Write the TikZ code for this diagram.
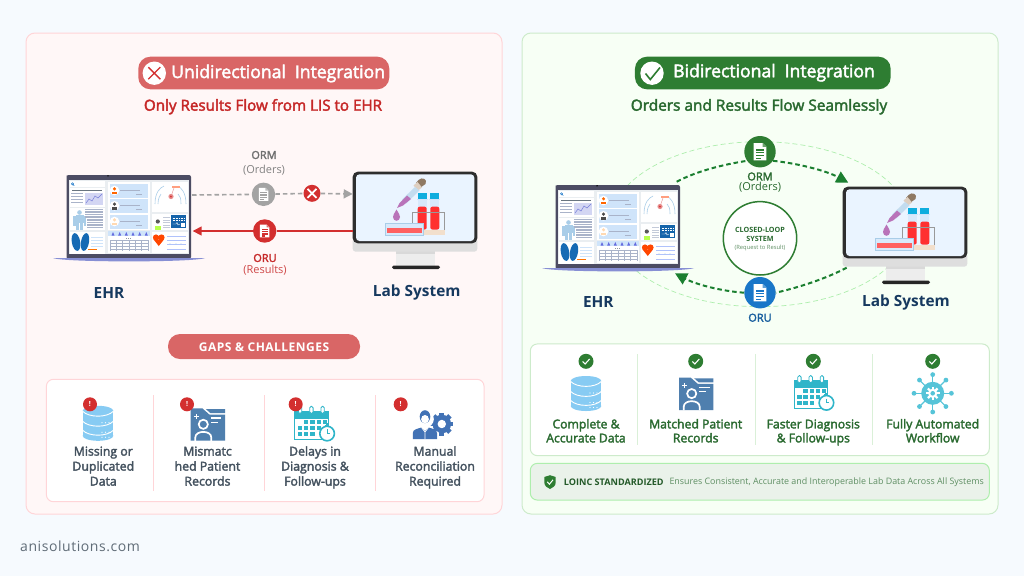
\documentclass[tikz,border=0pt]{standalone}
\usepackage{fontspec}
\setmainfont{Open Sans}
\newfontfamily\medf[FakeBold=2.5]{Open Sans}
\newfontfamily\spacedf[LetterSpace=4]{Open Sans}
\usetikzlibrary{arrows.meta,calc}
\definecolor{pagebg}{HTML}{F6FAFE}
\definecolor{redbg}{HTML}{FFF7F7}
\definecolor{redbd}{HTML}{FFD5D8}
\definecolor{redpill}{HTML}{D96666}
\definecolor{redd}{HTML}{D32F2F}
\definecolor{redt}{HTML}{C62828}
\definecolor{greenbg}{HTML}{F7FFF5}
\definecolor{greenbd}{HTML}{CDEBCB}
\definecolor{greenp}{HTML}{2E7D32}
\definecolor{greena}{HTML}{1B7F30}
\definecolor{greent}{HTML}{2A6A30}
\definecolor{navy}{HTML}{16395F}
\definecolor{slate}{HTML}{44525F}
\definecolor{grayc}{HTML}{A3A3A3}
\definecolor{grayt}{HTML}{6F6F6F}
\definecolor{bluec}{HTML}{1976C8}
\definecolor{dbblue}{HTML}{87CBF3}
\definecolor{fold}{HTML}{4F7FAE}
\definecolor{teal}{HTML}{2FB5C9}
\definecolor{manb}{HTML}{4272B5}
\definecolor{wflow}{HTML}{56C4D8}
\definecolor{scr}{HTML}{EAEEF1}
\definecolor{lrow}{HTML}{CFE4FA}
\definecolor{lline}{HTML}{A9B3C9}
\definecolor{lblue}{HTML}{A9CDE8}
\definecolor{mons}{HTML}{EAF4FF}
\newcommand{\fsz}[2]{\fontsize{#1}{#2}\selectfont}
\tikzset{
 x=1pt,y=-1pt,
 txt/.style={inner sep=0pt,align=center},
 panel/.style={draw,line width=1pt,rounded corners=9pt},
 pill/.style={rounded corners=12pt},
 card/.style={fill=white,draw,line width=1pt,rounded corners=7pt},
 disc/.style={circle,inner sep=0pt,minimum size=#1},
 lgrey/.style={lline,line width=.7pt},
 ddash/.style={dash pattern=on 4.5pt off 3pt,line width=2pt},
 tipA/.style={-{Triangle[length=9pt,width=9pt]}},
 gaptext/.style={txt,text=slate,font=\medf\fsz{12.3}{15}},
 bentext/.style={txt,text=greent,font=\medf\fsz{12.2}{14}},
 sysname/.style={txt,text=navy,font=\bfseries\fsz{15.4}{18}},
}
% laptop drawn in the coordinates of the left panel
\newcommand{\laptopicon}[2]{\begin{scope}[shift={(#1,#2)}]
 \fill[fill=black!78!blue!40!gray] (66.5,177) [rounded corners=2pt] -- (66.5,175) -- (191,175) -- (191,259) -- (66.5,259) -- cycle;
 \fill[scr] (68.5,180) rectangle (189,254);
 \fill[black] (108,175.8) circle[radius=.8];
 \fill[fill=lline!80!blue] (53,258) -- (205,258) .. controls (195,262.5) and (63,262.5) .. (53,258) -- cycle;
 \foreach \a/\b/\c/\d in {69.5/181/105/187,69.5/187.7/105/206.7,69.5/207.7/105/230,69.5/232/105/253.5,108/181.7/150/230,108/230.7/150/252.5,152.3/181.7/188.3/212.3,152.3/214.3/188.3/230,152.3/231.7/188.3/253.3}
   \fill[white] (\a,\b) rectangle (\c,\d);
 % search card
 \draw[bluec,line width=.5pt] (72.5,183.8) circle[radius=1.1] (73.3,184.7) -- (74.3,185.7);
 % chart card
 \draw[slate!80,line width=.8pt] (72,190.5) -- (102,190.5);
 \foreach \y in {193,196,199,202} \draw[lgrey,line width=.5pt] (71,\y) -- (83,\y);
 \fill[scr!90!blue] (85,193) rectangle (103,205);
 \draw[lline!70!blue,line width=.5pt] (86,203) -- (89,199) -- (92,201) -- (95,196) -- (98,198) -- (102,194);
 % body card
 \fill[lblue] (79.5,212.5) circle[radius=2.3];
 \fill[lblue] (75.5,215) rectangle (83.5,223);
 \fill[lblue] (73,215.5) -- (75.5,215.5) -- (75.5,226) -- (73,226) -- cycle;
 \fill[lblue] (83.5,215.5) -- (86,215.5) -- (86,226) -- (83.5,226) -- cycle;
 \fill[lblue] (76,223) rectangle (79,229.5);
 \fill[lblue] (80,223) rectangle (83,229.5);
 \foreach \y in {209.5,212,214.5,217} \draw[lline,line width=1.2pt] (85,\y) -- (103,\y);
 \foreach \y in {220,222.5,225,227.5} \draw[lline,line width=1.2pt] (87,\y) -- (103,\y);
 % lungs
 \fill[bluec!90!black,rotate around={10:(76,242)}] (76,242) ellipse[x radius=4.2,y radius=9];
 \fill[bluec!90!black,rotate around={-10:(85,242)}] (85,242) ellipse[x radius=4,y radius=9];
 \foreach \y in {237,240,243,246} \draw[lrow,line width=.6pt] (91,\y) -- (103,\y);
 \draw[orange!90!red,line width=1.1pt] (88,249.5) -- (97,249.5);
 % profile rows
 \foreach \y/\c in {184/orange!80!red,199.3/black!70,215/orange!30!white}{
   \fill[lrow] (110,\y) rectangle (148,\y+13.5);
   \fill[white] (114.5,\y+6.5) circle[radius=4.8];
   \fill[\c] (114.5,\y+4.8) circle[radius=1.7];
   \fill[\c] (111.7,\y+10.2) rectangle (117.3,\y+7.5);
   \draw[lgrey,line width=.5pt] (120,\y+6) -- (140,\y+6);
   \draw[lgrey,line width=.5pt] (136,\y+10) -- (142,\y+10);
 }
 % calendar
 \fill[lrow] (108,230.7) rectangle (150,236);
 \foreach \x in {113,119.7,126.3,133,139.7,146.3} \fill[lline!60!blue] (\x,232) -- (\x+1.5,235.5) -- (\x-1.5,235.5) -- cycle;
 \draw[slate!60,line width=.7pt,dash pattern=on 1pt off 1pt] (126,238) -- (132,238);
 \foreach \y in {240,243.2,246.4,249.6} \draw[lgrey,line width=.3pt] (110,\y) -- (148,\y);
 \foreach \x in {110,116.3,122.6,128.9,135.2,141.5,148} \draw[lgrey,line width=.3pt] (\x,240) -- (\x,251);
 % anatomy
 \draw[lblue,line width=.6pt] (155,204) .. controls (155,192) and (160,188) .. (164,186)
   (158,204) .. controls (158,198) and (160,196) .. (161,194)
   (186,204) .. controls (186,192) and (181,188) .. (178,186)
   (181,204) .. controls (181,198) and (180,196) .. (178,194);
 \fill[redd!55] (171,196.5) circle[radius=2.6];
 \fill[redd] (171,196.5) circle[radius=1.1];
 \draw[redd!55,line width=.4pt] (171,196.5) -- (174,188);
 \fill[orange!50!red!50] (172,185.5) rectangle (180,187.5);
 % id card
 \fill[green!40!yellow!70] (154.5,225.5) rectangle (161,229.5);
 \fill[black!65] (157.8,221.5) circle[radius=2.1];
 \foreach \y in {217.5,220,222.5,225,227.5} \draw[lline!70,line width=.9pt] (163,\y) -- (170,\y);
 \fill[bluec!85!black] (170.7,215) rectangle (186,228.3);
 \draw[white,line width=.4pt,dash pattern=on 1pt off .6pt] (172.5,218) -- (184,218) (172.5,220) -- (184,220);
 \draw[white,line width=.4pt] (172.5,224) -- (176,224) -- (177,222.5) -- (178,225) -- (180,224);
 \fill[white] (181,223) rectangle (184.5,227);
 % heart card
 \fill[orange!55!red] (156,237.5) circle[radius=3.1] (161.5,237.5) circle[radius=3.1];
 \fill[orange!55!red] (153.4,239.3) -- (164.1,239.3) -- (158.75,246) -- cycle;
 \foreach \y in {236,240,244,249} \draw[lrow!85!blue,line width=.6pt] (167,\y) -- (186,\y);
 \foreach \x in {170,176,181} \fill[lblue] (\x,244) circle[radius=.7];
\end{scope}}
% monitor drawn in the coordinates of the left panel
\newcommand{\monitoricon}[2]{\begin{scope}[shift={(#1,#2)}]
 \fill[fill=black!15] (396,250) rectangle (435,266);
 \fill[fill=black!7] (396,253.5) rectangle (435,266);
 \fill[black!85] (392,269) [rounded corners=1.6pt] -- (392,265.5) -- (440,265.5) -- (440,269) -- cycle;
 \fill[fill=black!13,rounded corners=3pt] (352.7,238) rectangle (477.3,251.7);
 \fill[fill=black!82,rounded corners=5pt] (352.7,171.7) rectangle (477.3,243.3);
 \fill[mons,rounded corners=3.5pt] (356,174.3) rectangle (474.3,241);
 % dropper
 \fill[fill=black!50!brown!70] (420.5,187.5) -- (416,183) -- (418.5,180) .. controls (422,176.5) and (428,179) .. (425.5,184) -- cycle;
 \fill[fill=black!25!brown!30] (413.5,185.5) -- (417.5,182) -- (422,187.5) -- (418,190.5) -- cycle;
 \fill[lblue!70!white] (415,187) -- (419.5,190.5) -- (406,203.5) -- (402,199.5) -- cycle;
 \fill[violet!55!white] (407,195.5) -- (411,199) -- (403,205.5) -- (397,208) -- (399.5,203) -- cycle;
 \fill[violet!55!white] (396.5,209.5) .. controls (394,214) and (393,215) .. (393,217) .. controls (393,222) and (400,222) .. (400,217) .. controls (400,215) and (399,214) .. (396.5,209.5) -- cycle;
 % rack back
 \fill[fill=black!25!orange!20] (423,230) rectangle (445,235);
 % tubes
 \foreach \x in {417.7,430.3}{
   \fill[lrow!80!white] (\x,196) rectangle (\x+9,207);
   \fill[red!75!pink,rounded corners=2pt] (\x,206.7) rectangle (\x+9,229.5);
   \fill[bluec!60!cyan] (\x,193.3) rectangle (\x+9,198.5);
   \fill[lrow] (\x-1,198.5) rectangle (\x+10,199.8);
 }
 % rack
 \draw[black!40,line width=1.3pt] (412.3,230) -- (412.3,212.3) -- (444.3,212.3) -- (444.3,230);
 % tray
 \fill[lrow!80!white,draw=lblue,line width=.6pt] (385,223.3) rectangle (423.3,235);
 \fill[red!50!pink] (386.8,228.3) rectangle (421.7,233.3);
\end{scope}}
\newcommand{\dbicon}[2]{\begin{scope}[shift={(#1,#2)}]
 \fill[dbblue] (-15.3,-12.5) rectangle (15.3,12.5);
 \fill[dbblue] (0,-12.5) ellipse[x radius=15.3,y radius=5];
 \fill[dbblue] (0,12.5) ellipse[x radius=15.3,y radius=5];
 \foreach \y in {-12,-2,7}
   \draw[white,line width=.9pt] (-15.3,\y) .. controls (-9,\y+6.5) and (9,\y+6.5) .. (15.3,\y);
 \foreach \y in {-.5,9,14}{ \foreach \x in {4,7.5,11} \fill[white] (\x,\y) circle[radius=.6]; }
\end{scope}}
\newcommand{\foldicon}[2]{\begin{scope}[shift={(#1,#2)}]
 \fill[fold] (-17.2,-16.2) -- (-5.5,-16.2) -- (1.5,-10) -- (17.2,-10) -- (17.2,16.2) -- (-17.2,16.2) -- cycle;
 \fill[fold] (-2,-15.5) -- (17.2,-15.5) -- (17.2,-11.5) -- (2.5,-11.5) -- cycle;
 \draw[white,line width=1.2pt] (-11.5,-10.5) -- (-11.5,-5.5) (-14,-8) -- (-9,-8);
 \draw[white,line width=1.2pt] (3,-6.5) -- (13.5,-6.5) (3,-2) -- (10,-2);
 \draw[white,line width=1.7pt] (-4.5,-.2) circle[radius=4.6];
 \draw[white,line width=1.7pt] (-12.5,16.5) -- (-12.5,13) .. controls (-12.5,5.5) and (3.5,5.5) .. (3.5,13) -- (3.5,16.5);
\end{scope}}
\newcommand{\calicon}[2]{\begin{scope}[shift={(#1,#2)}]
 \fill[white,draw=teal,line width=.9pt] (-19.7,-13) rectangle (14,15);
 \fill[teal] (-20,-13.5) rectangle (14.3,-5);
 \foreach \x in {-14.5,-3.2,8}{ \fill[white,draw=teal,line width=.8pt,rounded corners=1.5pt] (\x-1.7,-17.7) rectangle (\x+1.7,-10.5); }
 \foreach \x/\y in {-8.5/-2,-2.2/-2,4/-2,10/-2,-14.5/4,-8.5/4,-2.2/4,4/4,-14.5/10,-8.5/10,-2.2/10}
   \fill[teal] (\x-2.1,\y-2.1) rectangle (\x+2.1,\y+2.1);
 \fill[teal] (10.5,0.5) rectangle (13.5,3);
 \fill[white,draw=teal,line width=1.6pt] (12.5,9.5) circle[radius=7.3];
 \fill[teal] (11,-.6) rectangle (14,1.2);
 \draw[teal,line width=.8pt] (12.5,5.2) -- (12.5,9.5) -- (15.5,9.5);
\end{scope}}
\newcommand{\gearteeth}[3]{\foreach \a in {0,45,...,315}{\fill[#1,rotate=\a] (-#3,-#2-2.2) rectangle (#3,-#2+1);}}
\newcommand{\manicon}[2]{\begin{scope}[shift={(#1,#2)}]
 \begin{scope}[shift={(9.3,0)}]
  \fill[manb] (0,0) circle[radius=9.3];
  \gearteeth{manb}{9.3}{2.4}
  \fill[white] (0,0) circle[radius=4.2];
 \end{scope}
 \fill[white] (-7.5,-5) circle[radius=8.8];
 \fill[white] (-21,15.8) -- (-21,8) -- (-8,3) -- (6,8) -- (6,15.8) -- cycle;
 \fill[manb] (-7.5,-7.3) ellipse[x radius=5.3,y radius=6.5];
 \fill[white] (-7.5,-4.8) ellipse[x radius=3.9,y radius=4.2];
 \fill[manb] (-19.7,15.2) -- (-19.7,9) .. controls (-19.7,5) and (-14,4.6) .. (-11,3.5) -- (-7.5,7) -- (-4,3.5) .. controls (-1,4.6) and (4.5,5) .. (4.5,9) -- (4.5,15.2) -- cycle;
 \draw[white,line width=.7pt] (-11,3.5) -- (-7.5,8) -- (-4,3.5) (-7.5,8) -- (-7.5,15.2);
\end{scope}}
\newcommand{\flowicon}[2]{\begin{scope}[shift={(#1,#2)}]
 \foreach \a in {0,45,...,315}{
   \draw[wflow,line width=1.1pt,rotate=\a] (0,0) -- (18.5,0);
   \fill[wflow,rotate=\a] (18.7,0) circle[radius=2.4];
 }
 \fill[wflow] (0,0) circle[radius=11.5];
 \fill[white] (0,0) circle[radius=4.6];
 \gearteeth{white}{4.6}{1.1}
 \fill[wflow] (0,0) circle[radius=2.3];
\end{scope}}
\newcommand{\docicon}[4]{\begin{scope}[shift={(#1,#2)},scale=#3]
 \fill[white] (-5,-6.8) -- (2,-6.8) -- (5,-3.8) -- (5,6.8) -- (-5,6.8) -- cycle;
 \fill[#4!70!white] (2,-6.8) -- (5,-3.8) -- (2,-3.8) -- cycle;
 \foreach \y/\e in {-1.5/3.2,.8/3.2,3.1/3.2,5.2/.8} \fill[#4] (-3.2,\y-.6) rectangle (\e,\y+.6);
\end{scope}}
\begin{document}
\begin{tikzpicture}
\useasboundingbox (0,0) rectangle (1024,576);
\fill[pagebg] (0,0) rectangle (1024,576);
% ---------- panels
\node[panel,draw=redbd,fill=redbg,minimum width=476pt,minimum height=481pt,inner sep=0pt] (leftpanel) at (264,273.5) {};
\node[panel,draw=greenbd,fill=greenbg,minimum width=476pt,minimum height=481pt,inner sep=0pt] (rightpanel) at (760,273.5) {};
% ---------- left header
\node[pill,fill=redpill,minimum width=251pt,minimum height=32.6pt,inner sep=0pt] (unipill) at (263.8,73) {};
\node[disc=23.4pt,fill=white] (unix) at (154.3,73.2) {};
\draw[redd,line width=1.4pt] (148.3,67.2) -- (160.3,79.2) (160.3,67.2) -- (148.3,79.2);
\node[txt,white,anchor=west,font=\medf\fsz{17.6}{20}] (unititle) at (171,73.5) {Unidirectional\hspace{.25em} Integration};
\node[txt,text=redt,font=\medf\fsz{15.2}{18}] (unisub) at (263,106.7) {Only Results Flow from LIS to EHR};
% ---------- left diagram
\laptopicon{0}{0}
\monitoricon{0}{0}
\coordinate (ehrOutL) at (192,195);
\coordinate (labInL) at (352.7,194);
\coordinate (labOutL) at (353,231);
\coordinate (ehrInL) at (192.7,231);
\node[disc=23.4pt,fill=grayc] (ormL) at (263.5,194.3) {};
\node[disc=17pt,fill=redd] (blockL) at (312,193.3) {};
\node[disc=23.4pt,fill=redd] (oruL) at (264.7,231) {};
\draw[grayc,dash pattern=on 4.5pt off 3pt,line width=1.6pt] (ehrOutL) -- (ormL);
\draw[grayc,dash pattern=on 4.5pt off 3pt,line width=1.6pt] (ormL) -- (blockL);
\draw[grayc,dash pattern=on 4.5pt off 3pt,line width=1.6pt,tipA] (blockL) -- (labInL);
\draw[redd,line width=1.6pt] (labOutL) -- (oruL);
\draw[redd,line width=1.6pt,tipA] (oruL) -- (ehrInL);
\docicon{263.5}{194.3}{.95}{grayc}
\draw[white,line width=1.7pt] (307.5,188.8) -- (316.5,197.8) (316.5,188.8) -- (307.5,197.8);
\docicon{264.7}{231}{.95}{redd}
\node[txt,text=grayt,font=\medf\fsz{11}{13}] (ormLt) at (264,155) {ORM};
\node[txt,text=grayc!80!black,font=\fsz{11}{13}] (ordLt) at (264,170) {(Orders)};
\node[txt,text=redt,font=\medf\fsz{11}{13}] (oruLt) at (265,258) {ORU};
\node[txt,text=redt!85!white,font=\fsz{11}{13}] (resLt) at (265,270) {(Results)};
\node[sysname] (ehrL) at (109,292.5) {EHR};
\node[sysname] (labL) at (416.7,292.5) {Lab System};
% ---------- gaps
\node[pill,fill=redpill,minimum width=192pt,minimum height=25pt,inner sep=0pt] (gaps) at (264,346.5) {};
\node[txt,white,font=\spacedf\bfseries\fsz{12}{13}] (gapst) at (264,346.8) {GAPS \& CHALLENGES};
\node[card,draw=redbd,minimum width=437.7pt,minimum height=122.4pt,inner sep=0pt] (gapcard) at (265.2,440.5) {};
\foreach \x in {153.3,264.3,375.7} \draw[redbd,line width=.9pt] (\x,395) -- (\x,490.7);
\dbicon{98}{423.3}
\foldicon{207.8}{424.5}
\calicon{314.6}{424}
\manicon{432.5}{424}
\foreach \n/\x in {ba/90,bb/187,bc/295.7,bd/400.7}{
  \node[disc=14pt,fill=redd,text=white,font=\bfseries\fsz{7}{8}] (\n) at (\x,404.3) {!};
}
\node[gaptext] (g1) at (103.3,467.6) {\strut Missing or\\Duplicated\\Data\strut};
\node[gaptext] (g2) at (207.5,467.6) {\strut Mismatc\\hed Patient\\Records\strut};
\node[gaptext] (g3) at (315,467.6) {\strut Delays in\\Diagnosis \&\\Follow-ups\strut};
\node[gaptext] (g4) at (435,467.6) {\strut Manual\\Reconciliation\\Required\strut};
% ---------- right header
\node[pill,fill=greenp,minimum width=255.7pt,minimum height=32.6pt,inner sep=0pt] (bipill) at (762.8,73) {};
\node[disc=23.4pt,fill=white] (bicheck) at (652,73.2) {};
\draw[greenp,line width=1.6pt] (645.5,73.5) -- (650.3,79.5) -- (660,67.5);
\node[txt,white,anchor=west,font=\medf\fsz{17.6}{20}] (bititle) at (673,72.7) {Bidirectional\hspace{.25em} Integration};
\node[txt,text=greent,font=\medf\fsz{15.4}{18}] (bisub) at (759,106.7) {Orders and Results Flow Seamlessly};
% ---------- right diagram
\draw[greenbd!85!green,line width=.7pt,dash pattern=on 5pt off 3pt] (760,224.2) ellipse[x radius=150,y radius=82.5];
\laptopicon{489}{10}
\monitoricon{490}{15}
\coordinate (ehrOutR) at (676.7,181.7);
\coordinate (labInR) at (848.3,182.7);
\coordinate (labOutR) at (846.7,267.7);
\coordinate (ehrInR) at (675,273.3);
\node[disc=31.4pt,fill=greenp] (ormR) at (760,151.7) {};
\node[disc=31.4pt,fill=bluec] (oruR) at (760,292.7) {};
\node[disc=73.4pt,fill=white,draw=greenp,line width=1.5pt] (loop) at (760,238.3) {};
\draw[greena,ddash] (ehrOutR) .. controls (695,172) and (720,165) .. (ormR.215);
\draw[greena,ddash,-{Triangle[length=12pt,width=12pt]}] (ormR.-35) .. controls (795,163) and (825,170) .. (labInR);
\draw[greena,ddash] (labOutR) .. controls (825,279) and (800,287) .. (oruR.east);
\draw[greena,ddash,-{Triangle[length=12pt,width=12pt]}] (oruR.west) .. controls (720,291) and (695,284) .. (ehrInR);
\docicon{760}{151.7}{1.28}{greenp}
\docicon{760}{292.7}{1.28}{bluec}
\node[txt,text=greent,font=\medf\fsz{11}{13}] (ormRt) at (760,176.5) {ORM};
\node[txt,text=greent,font=\fsz{11}{13}] (ordRt) at (760,186.7) {(Orders)};
\node[txt,text=greent,font=\bfseries\fsz{7.2}{9}] (loopa) at (760,234.8) {\strut CLOSED-LOOP\\SYSTEM\strut};
\node[txt,text=greent!75!white,font=\fsz{5.8}{7}] (loopb) at (760,248.3) {(Request to Result)};
\node[txt,text=bluec!60!navy,font=\medf\fsz{11}{13}] (oruRt) at (760,317.7) {ORU};
\node[sysname] (ehrR) at (598.3,302.2) {EHR};
\node[sysname] (labR) at (906,302.2) {Lab System};
% ---------- benefits
\node[card,draw=greenbd,minimum width=459pt,minimum height=111.7pt,inner sep=0pt] (bencard) at (759.8,399.8) {};
\foreach \x in {637.3,755,872.3} \draw[greenbd!75!white,line width=.9pt] (\x,354.3) -- (\x,445);
\dbicon{586}{393.5}
\foldicon{696.2}{393.8}
\calicon{813.9}{393.3}
\flowicon{932.7}{393.3}
\foreach \n/\x in {ca/586,cb/695.7,cc/813.3,cd/932.7}{
  \node[disc=15pt,fill=greenp] (\n) at (\x,361.3) {};
  \draw[white,line width=1.1pt] (\x-3.4,361.5) -- (\x-.9,364) -- (\x+3.6,359);
}
\node[bentext] (b1) at (586,432.6) {\strut Complete \&\\Accurate Data\strut};
\node[bentext] (b2) at (695.7,432.6) {\strut Matched Patient\\Records\strut};
\node[bentext] (b3) at (813.3,432.6) {\strut Faster Diagnosis\\\& Follow-ups\strut};
\node[bentext] (b4) at (932.7,432.6) {\strut Fully Automated\\Workflow\strut};
% ---------- LOINC
\node[fill=greenp!10!white,draw=greenbd!85!green,line width=1pt,rounded corners=7pt,minimum width=459pt,minimum height=36.7pt,inner sep=0pt] (loinc) at (759.8,481.7) {};
\fill[greenp] (544.3,477) -- (550,475.2) -- (555.7,477) -- (555.7,482.5) .. controls (555.7,486) and (552.5,488) .. (550,489) .. controls (547.5,488) and (544.3,486) .. (544.3,482.5) -- cycle;
\draw[white,line width=1pt] (547.2,481.8) -- (549.4,484.2) -- (553,479.8);
\node[txt,text=greent!85!black,anchor=west,font=\bfseries\fsz{9.1}{11}] (loinct) at (563.7,481.8) {LOINC STANDARDIZED};
\node[txt,text=greent!75!white,anchor=west,font=\fsz{8.9}{11}] (loincd) at (669.3,481.8) {Ensures Consistent, Accurate and Interoperable Lab Data Across All Systems};
% ---------- footer
\node[txt,text=slate!85!white,anchor=west,font=\spacedf\fsz{14}{16}] (site) at (20,546) {anisolutions.com};
\end{tikzpicture}
\end{document}
